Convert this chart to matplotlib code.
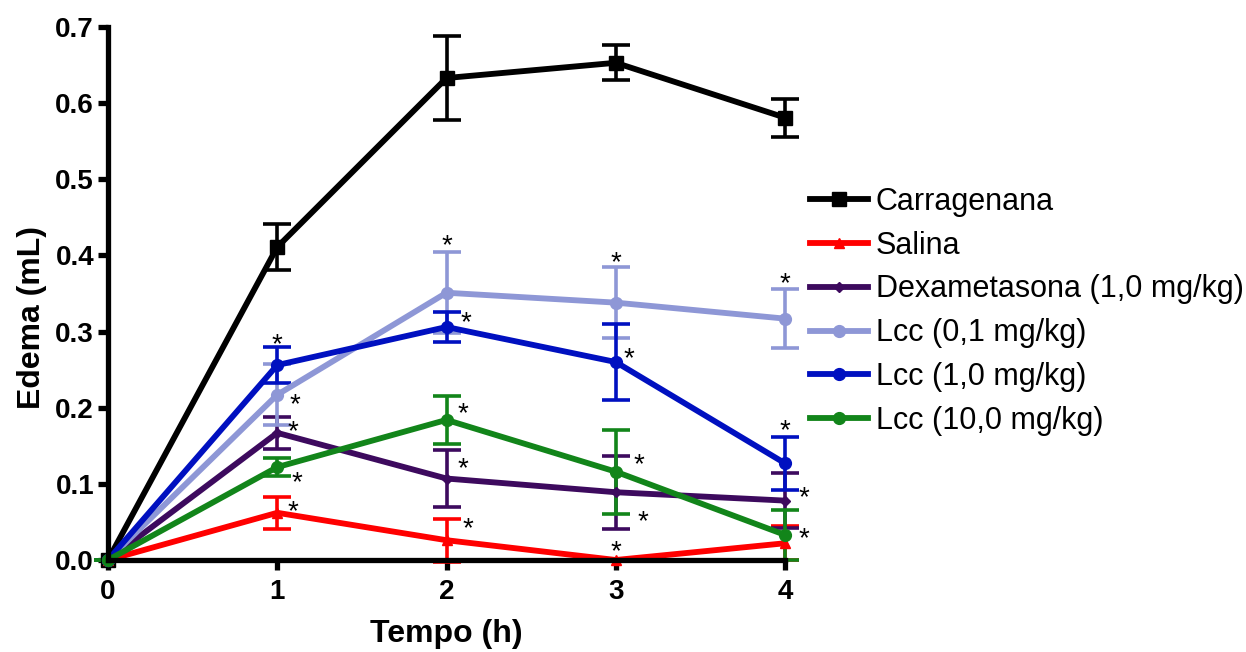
import matplotlib
matplotlib.use("Agg")
import matplotlib.pyplot as plt
from matplotlib.ticker import FormatStrFormatter

plt.rcParams["font.family"] = ["Liberation Sans", "DejaVu Sans"]

hours = [0, 1, 2, 3, 4]

carragenana = [0.0, 0.411, 0.633, 0.653, 0.581]
carragenana_err = [0.0, 0.030, 0.055, 0.023, 0.025]

salina = [0.0, 0.062, 0.026, 0.0, 0.022]
salina_err = [0.0, 0.021, 0.028, 0.0, 0.022]

dexametasona = [0.0, 0.167, 0.107, 0.089, 0.078]
dexametasona_err = [0.0, 0.021, 0.038, 0.048, 0.036]

lcc_01 = [0.0, 0.217, 0.351, 0.338, 0.317]
lcc_01_err = [0.0, 0.040, 0.053, 0.047, 0.039]

lcc_10 = [0.0, 0.256, 0.306, 0.260, 0.127]
lcc_10_err = [0.0, 0.024, 0.020, 0.050, 0.035]

lcc_100 = [0.0, 0.122, 0.184, 0.116, 0.033]
lcc_100_err = [0.0, 0.012, 0.032, 0.055, 0.033]

labels = [
    "Carragenana",
    "Salina",
    "Dexametasona (1,0 mg/kg)",
    "Lcc (0,1 mg/kg)",
    "Lcc (1,0 mg/kg)",
    "Lcc (10,0 mg/kg)",
]

series = [
    (carragenana, carragenana_err, "#000000", "s", 10),
    (salina, salina_err, "#ff0000", "^", 7),
    (dexametasona, dexametasona_err, "#3d0a5e", "D", 5),
    (lcc_01, lcc_01_err, "#8e97d6", "o", 8.5),
    (lcc_10, lcc_10_err, "#0010c0", "o", 8.5),
    (lcc_100, lcc_100_err, "#12851a", "o", 8.5),
]

# significance marks: (series index, hour, dx px, dy px) offsets from the point
stars = [
    (4, 1, 0, 27), (3, 1, 18, -3), (2, 1, 16, 8), (5, 1, 20, -9), (1, 1, 16, 8),
    (3, 2, 0, 54), (4, 2, 19, 11), (5, 2, 16, 13), (2, 2, 16, 16), (1, 2, 21, 18),
    (3, 3, 0, 46), (4, 3, 13, 10), (5, 3, 23, 13), (2, 3, 27, -23), (1, 3, 0, 15),
    (3, 4, 0, 41), (4, 4, 0, 39), (2, 4, 19, 9), (5, 4, 19, 3),
]

fig = plt.figure(figsize=(12.46, 6.52), dpi=100)
ax = fig.add_axes([108 / 1246, 92 / 652, 677 / 1246, 533 / 652])

handles = []
for (vals, errs, color, marker, ms), label in zip(series, labels):
    eb = ax.errorbar(
        hours, vals, yerr=errs, color=color, marker=marker, markersize=ms,
        linewidth=4.2, elinewidth=2.6, capsize=10, capthick=2.6,
        label=label,
    )
    for artist in eb.get_children():
        artist.set_clip_on(False)
    handles.append(eb[0])

for idx, hour, dx, dy in stars:
    vals = series[idx][0]
    ax.annotate(
        "*", (hours[hour], vals[hour]), xytext=(dx, dy - 7),
        textcoords="offset pixels", ha="center", va="center",
        fontsize=20, color="black", annotation_clip=False,
    )

ax.set_xlim(0, 4)
ax.set_ylim(0, 0.7)
ax.set_xticks(hours)
ax.set_yticks([0.0, 0.1, 0.2, 0.3, 0.4, 0.5, 0.6, 0.7])
ax.yaxis.set_major_formatter(FormatStrFormatter("%.1f"))

for side in ("top", "right"):
    ax.spines[side].set_visible(False)
for side in ("left", "bottom"):
    ax.spines[side].set_linewidth(3.8)
    ax.spines[side].set_capstyle("projecting")

ax.tick_params(axis="both", direction="out", length=7, width=3.8,
               labelsize=20, pad=3)
ax.tick_params(axis="x", pad=7)
for lbl in ax.get_xticklabels() + ax.get_yticklabels():
    lbl.set_fontweight("bold")

ax.set_xlabel("Tempo (h)", fontsize=23, fontweight="bold", labelpad=10)
ax.set_ylabel("Edema (mL)", fontsize=23, fontweight="bold")
ax.yaxis.set_label_coords(-0.09, 0.455)

ax.legend(
    handles=handles, labels=labels, loc="upper left",
    bbox_to_anchor=(810 / 1246, 1 - 187 / 652), bbox_transform=fig.transFigure,
    frameon=False, fontsize=22, handlelength=1.9, handletextpad=0.25,
    labelspacing=0.45, borderpad=0, borderaxespad=0,
)

fig.savefig("out.png", dpi=100)
